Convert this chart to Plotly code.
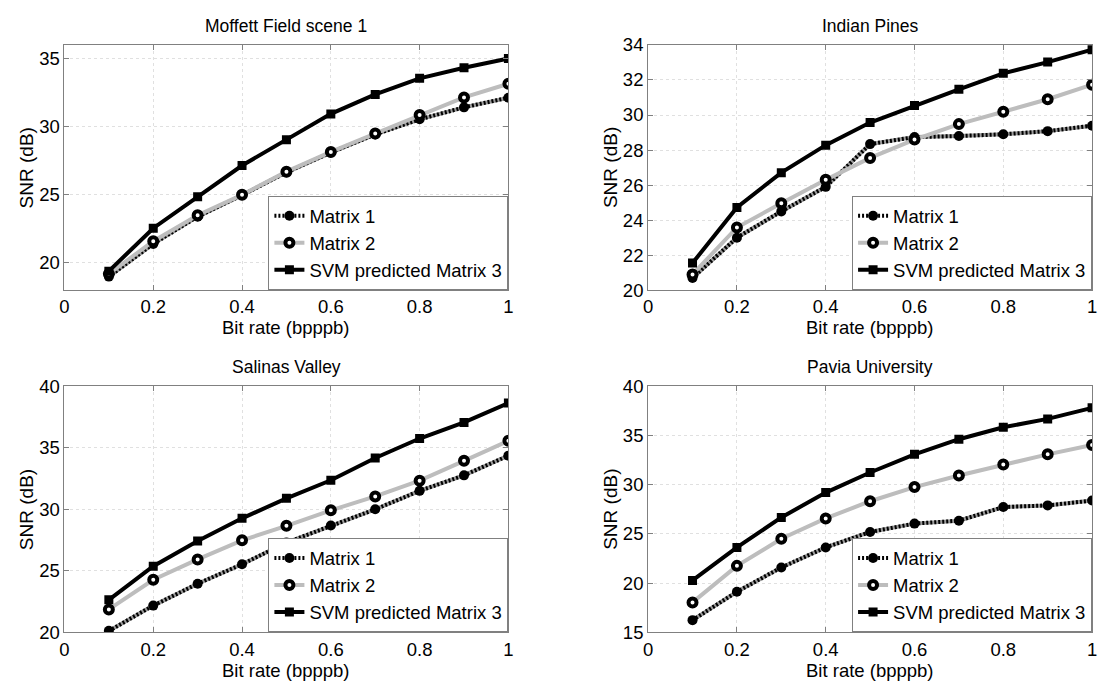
import plotly.graph_objects as go

bitrate = [0.1, 0.2, 0.3, 0.4, 0.5, 0.6, 0.7, 0.8, 0.9, 1.0]

titles = ["Moffett Field scene 1", "Indian Pines", "Salinas Valley", "Pavia University"]
series_names = ["Matrix 1", "Matrix 2", "SVM predicted Matrix 3"]

moffett_m1 = [19.0, 21.4, 23.4, 24.97, 26.65, 28.1, 29.43, 30.54, 31.42, 32.13]
moffett_m2 = [19.2, 21.6, 23.5, 25.0, 26.7, 28.15, 29.5, 30.85, 32.15, 33.15]
moffett_svm = [19.4, 22.55, 24.85, 27.15, 29.05, 30.94, 32.37, 33.55, 34.33, 35.0]

pines_m1 = [20.7, 23.0, 24.5, 25.9, 28.34, 28.74, 28.8, 28.9, 29.08, 29.39]
pines_m2 = [20.9, 23.58, 24.96, 26.3, 27.55, 28.6, 29.48, 30.18, 30.9, 31.73]
pines_svm = [21.55, 24.72, 26.71, 28.28, 29.57, 30.55, 31.47, 32.38, 33.02, 33.73]

salinas_m1 = [20.13, 22.18, 23.96, 25.54, 27.3, 28.69, 30.0, 31.5, 32.76, 34.36]
salinas_m2 = [21.87, 24.28, 25.93, 27.48, 28.66, 29.92, 31.05, 32.33, 33.94, 35.57]
salinas_svm = [22.65, 25.38, 27.43, 29.27, 30.89, 32.36, 34.17, 35.75, 37.06, 38.63]

pavia_m1 = [16.25, 19.13, 21.6, 23.63, 25.2, 26.05, 26.35, 27.73, 27.9, 28.39]
pavia_m2 = [18.05, 21.76, 24.51, 26.58, 28.32, 29.76, 30.94, 32.06, 33.08, 34.03]
pavia_svm = [20.28, 23.63, 26.68, 29.2, 31.24, 33.08, 34.62, 35.83, 36.68, 37.8]

y_ranges = [[18, 36], [20, 34], [20, 40], [15, 40]]
y_dticks = [5, 2, 5, 5]

panels = [
    (moffett_m1, moffett_m2, moffett_svm),
    (pines_m1, pines_m2, pines_svm),
    (salinas_m1, salinas_m2, salinas_svm),
    (pavia_m1, pavia_m2, pavia_svm),
]

W, H = 1105, 689
col_px = [(60, 508), (649, 1097)]
row_px = [(35, 288), (387, 641)]

FONT = "Liberation Sans, Arial, Helvetica, sans-serif"

fig = go.Figure()
layout = dict(
    width=W, height=H,
    margin=dict(l=0, r=0, t=0, b=0),
    paper_bgcolor="white", plot_bgcolor="white",
    font=dict(family=FONT, size=16, color="black"),
    annotations=[],
)

for i, (m1, m2, svm) in enumerate(panels):
    r, c = divmod(i, 2)
    x0, x1 = col_px[c]
    top, bot = row_px[r]
    xd = [x0 / W, x1 / W]
    yd = [1 - bot / H, 1 - top / H]
    sfx = "" if i == 0 else str(i + 1)
    xa, ya = "x" + sfx, "y" + sfx
    leg = "legend" + sfx

    axis_common = dict(
        showline=True, linecolor="#808080", linewidth=1, mirror="ticks",
        ticks="inside", ticklen=5, tickcolor="#808080",
        showgrid=True, gridcolor="#e0e0e0", griddash="dot", gridwidth=1,
        zeroline=False, tickfont=dict(family=FONT, size=18.5, color="black"),
    )
    layout["xaxis" + sfx] = dict(
        axis_common, domain=xd, anchor=ya, range=[0, 1],
        tickvals=[0, 0.2, 0.4, 0.6, 0.8, 1], ticktext=["0", "0.2", "0.4", "0.6", "0.8", "1"],
    )
    layout["yaxis" + sfx] = dict(
        axis_common, domain=yd, anchor=xa, range=y_ranges[i],
        dtick=y_dticks[i], tick0=0,
    )
    layout[leg] = dict(
        x=xd[1], y=yd[0], xanchor="right", yanchor="bottom",
        xref="paper", yref="paper",
        bgcolor="white", bordercolor="#808080", borderwidth=1,
        font=dict(family=FONT, size=18.5, color="black"),
        tracegroupgap=0, itemwidth=30,
    )

    # Matrix 1: hatched (gray base + black dotted overlay)
    fig.add_trace(go.Scatter(
        x=bitrate, y=m1, xaxis=xa, yaxis=ya, mode="lines",
        line=dict(color="#9a9a9a", width=4), showlegend=False, hoverinfo="skip",
    ))
    fig.add_trace(go.Scatter(
        x=bitrate, y=m1, xaxis=xa, yaxis=ya, mode="lines+markers", name=series_names[0],
        line=dict(color="black", width=4, dash="2px,2px"),
        marker=dict(symbol="circle", size=10, color="black"), legend=leg,
    ))
    # Matrix 2: light gray line, ring markers
    fig.add_trace(go.Scatter(
        x=bitrate, y=m2, xaxis=xa, yaxis=ya, mode="lines+markers", name=series_names[1],
        line=dict(color="#bdbdbd", width=4),
        marker=dict(symbol="circle", size=8, color="white", line=dict(color="black", width=4)),
        legend=leg,
    ))
    # SVM predicted Matrix 3: solid black
    fig.add_trace(go.Scatter(
        x=bitrate, y=svm, xaxis=xa, yaxis=ya, mode="lines+markers", name=series_names[2],
        line=dict(color="black", width=4),
        marker=dict(symbol="square", size=9, color="black"), legend=leg,
    ))

    cx = (x0 + x1) / 2 / W
    layout["annotations"].append(dict(
        text=titles[i], x=cx, y=1 - (top - 20) / H, xref="paper", yref="paper",
        xanchor="center", yanchor="middle", showarrow=False,
        font=dict(family=FONT, size=17.5, color="black"),
    ))
    layout["annotations"].append(dict(
        text="Bit rate (bpppb)", x=cx, y=1 - (bot + 27) / H, xref="paper", yref="paper",
        xanchor="center", yanchor="top", showarrow=False, borderpad=0,
        font=dict(family=FONT, size=18.5, color="black"),
    ))
    layout["annotations"].append(dict(
        text="SNR (dB)", x=(x0 - 38) / W, y=1 - (top + bot) / 2 / H, xref="paper", yref="paper",
        xanchor="center", yanchor="middle", showarrow=False, textangle=-90,
        font=dict(family=FONT, size=19, color="black"),
    ))

fig.update_layout(**layout)
fig.write_html("out.html")
